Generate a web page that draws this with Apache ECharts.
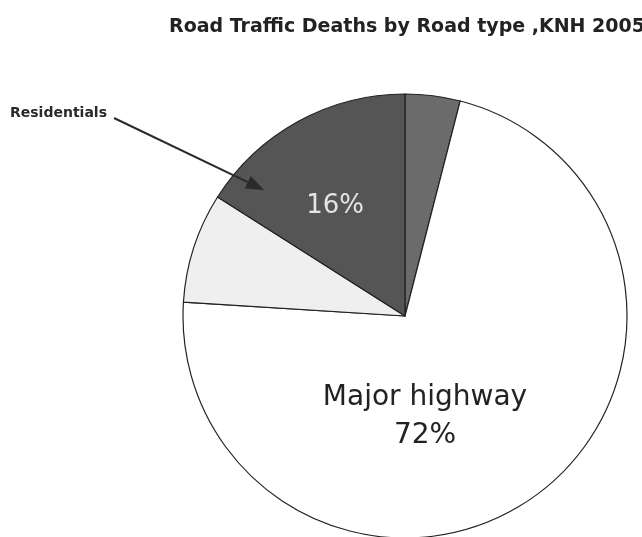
<!DOCTYPE html>
<html>
<head>
<meta charset="utf-8">
<script src="https://cdn.jsdelivr.net/npm/echarts@6/dist/echarts.min.js"></script>
<style>
  html, body { margin: 0; padding: 0; background: #ffffff; }
  #chart { width: 642px; height: 537px; }
</style>
</head>
<body>
<div id="chart"></div>
<script>
// Data (clockwise from 12 o'clock)
const categories = ['Other', 'Major highway', 'Minor road', 'Residentials'];
const values = [4, 72, 8, 16];
const sliceColors = ['#6b6b6b', '#ffffff', '#efefef', '#555555'];
const titleText = 'Road Traffic Deaths by Road type ,KNH 2005';
const calloutText = 'Residentials';

const FONT = '"DejaVu Sans", "Liberation Sans", Arial, sans-serif';

const data = categories.map((c, i) => {
  const item = {
    name: c,
    value: values[i],
    itemStyle: { color: sliceColors[i] },
    label: { show: false }
  };
  if (c === 'Major highway') {
    item.label = {
      show: true, position: 'inside',
      formatter: '{b}\n{d}%',
      fontFamily: FONT, fontSize: 28, color: '#222222',
      lineHeight: 38, offset: [-47, 8]
    };
  }
  if (c === 'Residentials') {
    item.label = {
      show: true, position: 'inside',
      formatter: (p) => Math.round(p.percent) + '%',
      fontFamily: FONT, fontSize: 26, color: '#e4e4e4',
      offset: [-15, -10]
    };
  }
  return item;
});

// callout arrow geometry
const a0 = [114, 118], a1 = [264, 190];
const dx = a1[0] - a0[0], dy = a1[1] - a0[1];
const L = Math.hypot(dx, dy), ux = dx / L, uy = dy / L;
const headLen = 18, headHalf = 7;
const bx = a1[0] - ux * headLen, by = a1[1] - uy * headLen;
const headPts = [a1, [bx - uy * headHalf, by + ux * headHalf], [bx + uy * headHalf, by - ux * headHalf]];

const chart = echarts.init(document.getElementById('chart'), null, { renderer: 'canvas' });
chart.setOption({
  backgroundColor: '#ffffff',
  animation: false,
  title: {
    text: titleText,
    left: 164, top: 13,
    textStyle: { fontFamily: FONT, fontSize: 19, fontWeight: 'bold', color: '#222222' }
  },
  series: [{
    type: 'pie',
    center: [405, 316],
    radius: 222,
    startAngle: 90,
    clockwise: true,
    avoidLabelOverlap: false,
    labelLine: { show: false },
    itemStyle: { borderColor: '#222222', borderWidth: 1.2 },
    emphasis: { disabled: true },
    data: data
  }],
  graphic: [
    {
      type: 'text', left: 10, top: 106, z: 100,
      style: { text: calloutText, font: 'bold 14px ' + FONT, fill: '#2a2a2a' }
    },
    {
      type: 'line', z: 100,
      shape: { x1: a0[0], y1: a0[1], x2: bx, y2: by },
      style: { stroke: '#2a2a2a', lineWidth: 2 }
    },
    {
      type: 'polygon', z: 100,
      shape: { points: headPts },
      style: { fill: '#2a2a2a' }
    }
  ]
});
</script>
</body>
</html>
